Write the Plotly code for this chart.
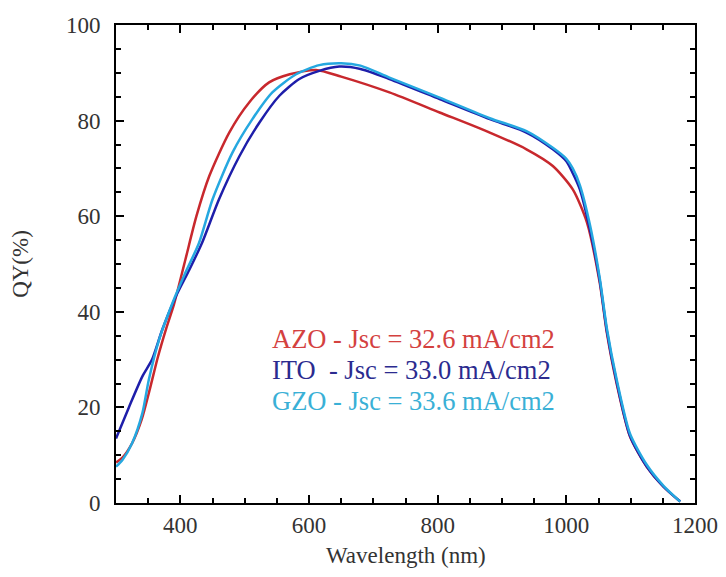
import plotly.graph_objects as go

# AZO curve (red)
azo_x = [300, 310, 325, 340, 352, 365, 378, 390, 408, 425, 445, 476, 507, 538, 570, 611, 650,
         725, 803, 881, 938, 979, 1010, 1032, 1052, 1063, 1078, 1099, 1125, 1151, 1177]
azo_y = [8.5, 9.5, 12.5, 17.5, 23.5, 30.5, 36.5, 41.5, 51, 60, 68.4, 77.5, 83.8, 88, 89.7, 90.6, 89.2,
         85.9, 81.7, 77.5, 74, 70.5, 65.6, 58.7, 46, 35.6, 25.1, 13.9, 7.6, 3.4, 0.3]

# ITO curve (dark blue)
ito_x = [300, 320, 341, 356, 372, 393, 414, 434, 460, 492, 523, 554, 585, 616, 647, 680,
         725, 803, 881, 938, 979, 1000, 1010, 1021, 1037, 1052, 1063, 1078, 1099, 1125, 1151, 1177]
ito_y = [13.5, 20, 26.5, 30, 36.3, 43.2, 48.8, 54.5, 63.5, 72.6, 79.6, 85.2, 88.7, 90.4, 91.3, 90.8,
         88.7, 84.5, 80.3, 77.5, 74, 71.5, 69, 65.6, 57, 46.5, 36, 25.5, 14, 7.6, 3.4, 0.3]

# GZO curve (cyan)
gzo_x = [300, 310, 325, 341, 351, 367, 388, 408, 429, 450, 481, 512, 543, 580, 616, 650, 680,
         725, 803, 881, 938, 979, 1000, 1010, 1021, 1037, 1052, 1063, 1078, 1099, 1125, 1151, 1177]
gzo_y = [7.6, 9, 12.5, 18.8, 25.8, 34.2, 41.9, 48.2, 54.4, 63.5, 73.3, 80.3, 85.9, 89.7, 91.6, 92, 91.5,
         89, 84.8, 80.5, 77.8, 74.3, 72, 70, 66.5, 58, 47, 36.5, 26, 14.5, 8, 3.6, 0.3]

labels = ["AZO - Jsc = 32.6 mA/cm2", "ITO\u00a0 - Jsc = 33.0 mA/cm2", "GZO - Jsc = 33.6 mA/cm2"]
label_y = [34.4, 27.9, 21.4]

line_colors = ["#c8282d", "#1e1eaa", "#25a8e0"]
text_colors = ["#d4413f", "#2b2b8f", "#3ab0d6"]

fig = go.Figure()
for xs, ys, c, name in [(azo_x, azo_y, line_colors[0], "AZO"),
                        (ito_x, ito_y, line_colors[1], "ITO"),
                        (gzo_x, gzo_y, line_colors[2], "GZO")]:
    fig.add_trace(go.Scatter(x=xs, y=ys, mode="lines", name=name,
                             line=dict(color=c, width=2.5, shape="spline", smoothing=0.7)))

for t, yv, c in zip(labels, label_y, text_colors):
    fig.add_annotation(x=539, y=yv, text=t, showarrow=False, xanchor="left", yanchor="middle",
                       font=dict(family="Liberation Serif", size=26.5, color=c))

# x axis title as an annotation, kept inside the figure
fig.add_annotation(xref="paper", yref="paper", x=0.5, y=-0.11, text="Wavelength (nm)",
                   showarrow=False, xanchor="center", yanchor="middle",
                   font=dict(family="Liberation Serif", size=23, color="#333333"))

axis_common = dict(
    showline=True, linecolor="black", linewidth=2, mirror="allticks",
    ticks="inside", ticklen=8, tickwidth=1.5, tickcolor="black",
    showgrid=False, zeroline=False, automargin=False,
    tickfont=dict(family="Liberation Serif", size=23, color="#333333"),
    title_font=dict(family="Liberation Serif", size=23, color="#333333"),
)

fig.update_xaxes(range=[300, 1200], tickvals=[400, 600, 800, 1000, 1200],
                 minor=dict(dtick=50, tick0=300, ticks="inside", ticklen=5, tickcolor="black"),
                 **axis_common)
fig.update_yaxes(range=[0, 100], tickvals=[0, 20, 40, 60, 80, 100],
                 minor=dict(dtick=5, tick0=0, ticks="inside", ticklen=5, tickcolor="black"),
                 ticklabelstandoff=9,
                 title_text="QY(%)", title_standoff=34, **axis_common)

# page body adds ~8px offset, so figure is a bit smaller than the window
fig.update_layout(
    width=710, height=561,
    margin=dict(l=108, r=23, t=17, b=66),
    plot_bgcolor="white", paper_bgcolor="white",
    showlegend=False,
)

fig.write_html("out.html")
